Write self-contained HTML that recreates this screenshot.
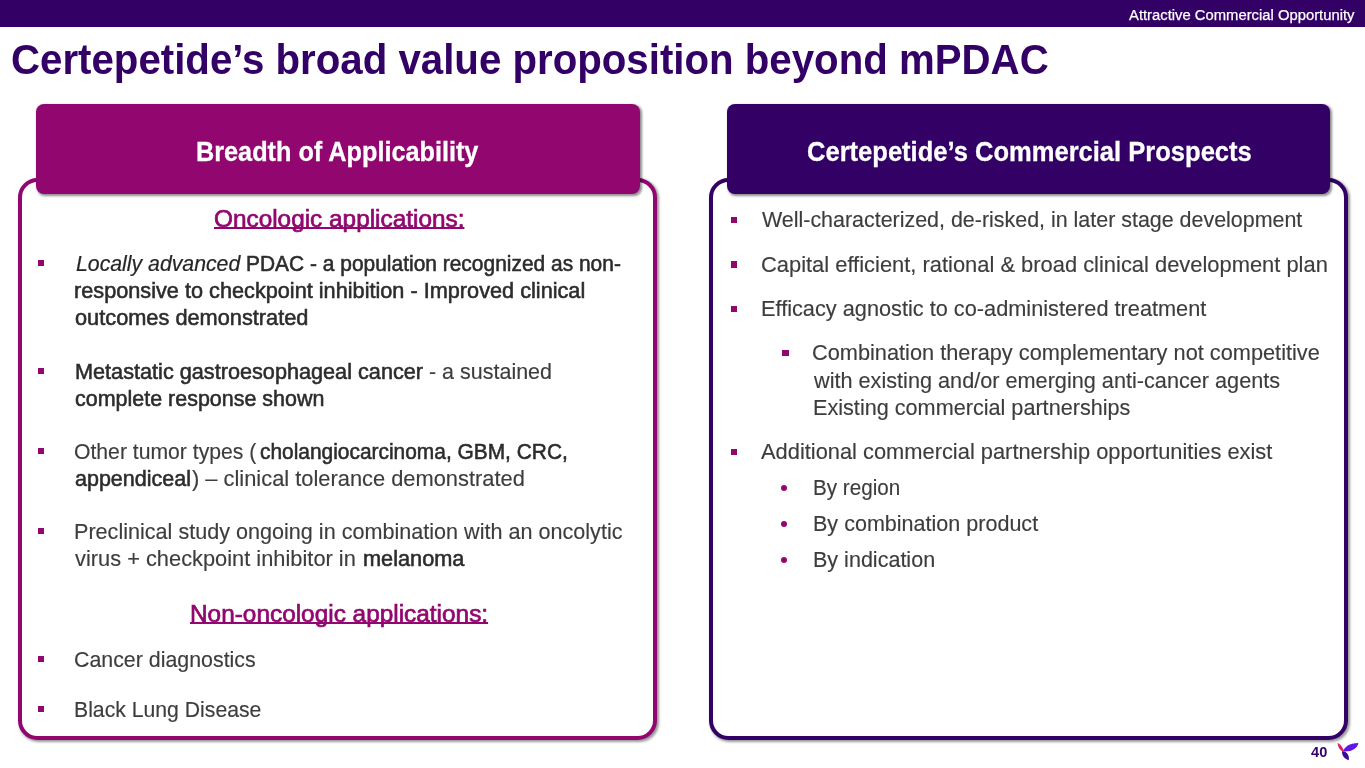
<!DOCTYPE html>
<html lang="en"><head><meta charset="utf-8"><title>Certepetide’s broad value proposition beyond mPDAC</title>
<style>
html,body{margin:0;padding:0;background:#fff;overflow:hidden;}
body{width:1365px;height:768px;position:relative;overflow:hidden;font-family:"Liberation Sans",sans-serif;}
.topbar{position:absolute;left:0;top:0;width:1365px;height:27px;background:#330066;}
.box{position:absolute;box-sizing:border-box;border:4px solid;border-radius:19.5px;background:#fff;box-shadow:1.5px 1.5px 2.5px rgba(0,0,0,.4);}
.boxL{left:18px;top:177.6px;width:639.1px;height:562.4px;border-color:#92076f;}
.boxR{left:709.1px;top:177.6px;width:638.8px;height:562.4px;border-color:#330066;}
.hd{position:absolute;border-radius:8px;box-shadow:1.5px 1.5px 2.5px rgba(0,0,0,.45);}
.hdL{left:36px;top:103.8px;width:603.7px;height:90px;background:#92076f;}
.hdR{left:727px;top:103.8px;width:603.4px;height:90px;background:#330066;}
.t{position:absolute;white-space:nowrap;line-height:1;transform-origin:0 0;}
.ul{text-decoration:underline;text-decoration-thickness:2px;text-underline-offset:0px;text-decoration-skip-ink:none;}
.sq{position:absolute;width:6.6px;height:6.6px;background:#92076f;}
.dot{position:absolute;width:6px;height:6px;border-radius:50%;background:#92076f;}
.title{font-size:43.2px;font-weight:bold;color:#330066;}
.top{font-size:15.5px;font-weight:normal;color:#ffffff;-webkit-text-stroke:0.25px #ffffff;}
.hdr{font-size:28.3px;font-weight:bold;color:#ffffff;-webkit-text-stroke:0.3px #ffffff;}
.subL{font-size:24.6px;font-weight:normal;color:#92076f;-webkit-text-stroke:0.7px #92076f;}
.reg{font-size:21.5px;font-weight:normal;color:#3d3d3d;-webkit-text-stroke:0.15px #3d3d3d;}
.ital{font-size:21.5px;font-weight:normal;color:#262626;font-style:italic;-webkit-text-stroke:0.2px #262626;}
.med{font-size:21.5px;font-weight:normal;color:#2c2c2c;-webkit-text-stroke:0.55px #2c2c2c;}
.pg{font-size:14.5px;font-weight:bold;color:#330066;}
</style></head><body>
<div class="topbar"></div>
<div class="box boxL"></div><div class="box boxR"></div>
<div class="hd hdL"></div><div class="hd hdR"></div>
<div class="sq" style="left:37.5px;top:259.9px"></div>
<div class="sq" style="left:37.5px;top:367.9px"></div>
<div class="sq" style="left:37.5px;top:447.9px"></div>
<div class="sq" style="left:37.5px;top:527.9px"></div>
<div class="sq" style="left:37.5px;top:655.9px"></div>
<div class="sq" style="left:37.5px;top:705.9px"></div>
<div class="sq" style="left:730.6px;top:216.7px"></div>
<div class="sq" style="left:730.6px;top:261.2px"></div>
<div class="sq" style="left:730.6px;top:305.5px"></div>
<div class="sq" style="left:730.6px;top:448.7px"></div>
<div class="sq" style="left:782.2px;top:349.7px"></div>
<div class="dot" style="left:781.25px;top:485.0px"></div>
<div class="dot" style="left:781.25px;top:521.0px"></div>
<div class="dot" style="left:781.25px;top:556.5px"></div>
<span class="t top" style="left:1128.62px;top:6.88px;transform:scaleX(0.9555)">Attractive Commercial Opportunity</span>
<span class="t title" style="left:11.07px;top:37.93px;transform:scaleX(0.9313)">Certepetide’s broad value proposition beyond mPDAC</span>
<span class="t hdr" style="left:196.26px;top:136.94px;transform:scaleX(0.8922)">Breadth of Applicability</span>
<span class="t hdr" style="left:806.75px;top:136.94px;transform:scaleX(0.9026)">Certepetide’s Commercial Prospects</span>
<span class="t ital" style="left:75.60px;top:253.70px;transform:scaleX(0.9887)">Locally advanced</span>
<span class="t med" style="left:246.30px;top:253.70px;transform:scaleX(0.9741)">PDAC - a population recognized as non-</span>
<span class="t med" style="left:74.27px;top:281.20px;transform:scaleX(1.0090)">responsive to checkpoint inhibition - Improved clinical</span>
<span class="t med" style="left:75.28px;top:308.20px;transform:scaleX(1.0120)">outcomes demonstrated</span>
<span class="t med" style="left:74.57px;top:361.70px;transform:scaleX(1.0076)">Metastatic gastroesophageal cancer</span>
<span class="t reg" style="left:428.57px;top:361.70px;transform:scaleX(0.9992)">- a sustained</span>
<span class="t med" style="left:75.28px;top:388.70px;transform:scaleX(0.9985)">complete response shown</span>
<span class="t reg" style="left:74.09px;top:441.70px;transform:scaleX(0.9844)">Other tumor types (</span>
<span class="t med" style="left:259.57px;top:441.70px;transform:scaleX(0.9721)">cholangiocarcinoma, GBM, CRC,</span>
<span class="t med" style="left:75.28px;top:468.70px;transform:scaleX(0.9997)">appendiceal</span>
<span class="t reg" style="left:192.07px;top:468.70px;transform:scaleX(1.0164)">) – clinical tolerance demonstrated</span>
<span class="t reg" style="left:74.47px;top:521.70px;transform:scaleX(1.0043)">Preclinical study ongoing in combination with an oncolytic</span>
<span class="t reg" style="left:75.08px;top:548.70px;transform:scaleX(1.0151)">virus + checkpoint inhibitor in</span>
<span class="t med" style="left:362.56px;top:548.70px;transform:scaleX(1.0103)">melanoma</span>
<span class="t reg" style="left:74.28px;top:649.70px;transform:scaleX(0.9937)">Cancer diagnostics</span>
<span class="t reg" style="left:74.49px;top:699.70px;transform:scaleX(0.9861)">Black Lung Disease</span>
<span class="t reg" style="left:761.58px;top:210.20px;transform:scaleX(0.9966)">Well-characterized, de-risked, in later stage development</span>
<span class="t reg" style="left:760.56px;top:254.70px;transform:scaleX(1.0185)">Capital efficient, rational &amp; broad clinical development plan</span>
<span class="t reg" style="left:761.06px;top:299.00px;transform:scaleX(1.0108)">Efficacy agnostic to co-administered treatment</span>
<span class="t reg" style="left:812.06px;top:343.20px;transform:scaleX(1.0118)">Combination therapy complementary not competitive</span>
<span class="t reg" style="left:814.08px;top:370.70px;transform:scaleX(1.0078)">with existing and/or emerging anti-cancer agents</span>
<span class="t reg" style="left:813.07px;top:398.00px;transform:scaleX(1.0062)">Existing commercial partnerships</span>
<span class="t reg" style="left:761.38px;top:442.20px;transform:scaleX(1.0163)">Additional commercial partnership opportunities exist</span>
<span class="t reg" style="left:813.11px;top:477.70px;transform:scaleX(0.9604)">By region</span>
<span class="t reg" style="left:813.07px;top:514.00px;transform:scaleX(1.0020)">By combination product</span>
<span class="t reg" style="left:813.07px;top:549.70px;transform:scaleX(1.0017)">By indication</span>
<span class="t pg" style="left:1311.00px;top:745.13px;transform:scaleX(1.0085)">40</span>
<span class="t subL ul" style="left:213.66px;top:207.08px;transform:scaleX(0.9901)">Oncologic applications:</span>
<span class="t subL ul" style="left:189.57px;top:602.38px;transform:scaleX(0.9911)">Non-oncologic applications:</span>
<svg style="position:absolute;left:1335px;top:740px" width="26" height="22" viewBox="1335 740 26 22">
<path d="M1337.6 742.7 C1340.6 744.6 1342.8 747.5 1344 750.8 L1343 751.7 C1339.8 750 1337.7 746.8 1337.6 742.7Z" fill="#de1f5e"/>
<path d="M1343.3 751.4 C1344 747 1349.5 742.9 1358.3 742.9 C1357.6 748 1352.5 751.8 1343.3 751.4Z" fill="#6414e6"/>
<path d="M1342 751.2 C1345.5 750.9 1349.6 753.6 1348.8 760.2 C1345 759.2 1341.8 756 1342 751.2Z" fill="#3c0a96"/>
</svg>
</body></html>
